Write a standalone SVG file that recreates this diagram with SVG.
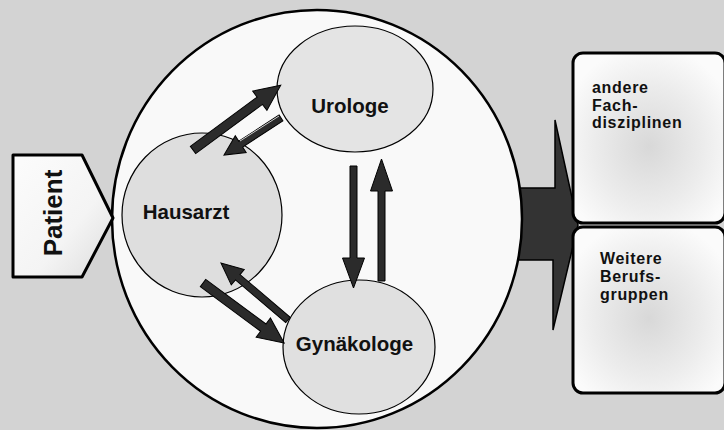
<svg xmlns="http://www.w3.org/2000/svg" width="724" height="430" viewBox="0 0 724 430">
<defs>
<radialGradient id="boxg" cx="0.5" cy="0.55" r="0.6">
<stop offset="0" stop-color="#d8d8d8"/>
<stop offset="0.6" stop-color="#ececec"/>
<stop offset="1" stop-color="#fbfbfb"/>
</radialGradient>
<linearGradient id="patg" x1="0" y1="0" x2="1" y2="1">
<stop offset="0" stop-color="#fcfcfc"/>
<stop offset="0.6" stop-color="#f4f4f4"/>
<stop offset="1" stop-color="#dcdcdc"/>
</linearGradient>
<style>
.node{stroke:#000;stroke-width:1.2}
.lbl{font-family:"Liberation Sans",Arial,sans-serif;font-weight:bold;fill:#111}
.big{font-size:20.5px;text-anchor:middle}
.box{fill:url(#boxg);stroke:#000;stroke-width:3}
.side{font-size:16px;letter-spacing:0.7px}
.arr{fill:#2b2b2b;stroke:#000;stroke-width:1}
</style>
</defs>
<rect x="0" y="0" width="724" height="430" fill="#d3d3d3"/>

<g id="bigarrow">
<path d="M505,188 L555,188 L555,120 L578,225 L553,330 L553,260 L505,260 Z" fill="#333" stroke="#000" stroke-width="1.5"/>
</g>

<g id="boundary">
<ellipse cx="317" cy="219" rx="205" ry="209" fill="#f9f9f9" stroke="#000" stroke-width="2.5"/>
</g>

<g id="patient">
<path d="M13,155 L82,155 L113,218 L82,277 L13,277 Z" fill="url(#patg)" stroke="#000" stroke-width="3" stroke-linejoin="round"/>
<text class="lbl" x="0" y="0" font-size="26" text-anchor="middle" transform="translate(62,213) rotate(-90)">Patient</text>
</g>

<g id="urologe">
<ellipse class="node" cx="355" cy="89" rx="78" ry="63" fill="#e4e4e4"/>
<text class="lbl big" x="350" y="113">Urologe</text>
</g>

<g id="hausarzt">
<ellipse class="node" cx="202" cy="215" rx="80" ry="82" fill="#dedede"/>
<text class="lbl big" x="186" y="219">Hausarzt</text>
</g>

<g id="gynaekologe">
<ellipse class="node" cx="359" cy="347" rx="76" ry="67" fill="#e0e0e0"/>
<text class="lbl big" x="354.5" y="351">Gynäkologe</text>
</g>

<g id="fachdisziplinen">
<rect class="box" x="573" y="53" width="152" height="170" rx="10"/>
<text class="lbl side" x="592" y="93">andere</text>
<text class="lbl side" x="592" y="110.5">Fach-</text>
<text class="lbl side" x="592" y="128">disziplinen</text>
</g>

<g id="berufsgruppen">
<rect class="box" x="573" y="227" width="152" height="166" rx="10"/>
<text class="lbl side" x="600" y="264">Weitere</text>
<text class="lbl side" x="600" y="282">Berufs-</text>
<text class="lbl side" x="600" y="299.5">gruppen</text>
</g>

<g id="connectors">
<path class="arr" transform="translate(193,150) rotate(-36.4)" d="M0,-4.5 L83,-4.5 L83,-12 L109,0 L83,12 L83,4.5 L0,4.5 Z"/>
<path class="arr" transform="translate(281,118) rotate(147)" d="M0,-3.5 L48,-3.5 L48,-10 L68,0 L48,10 L48,3.5 L0,3.5 Z"/>
<line x1="279" y1="116" x2="240" y2="141" stroke="#fff" stroke-width="0.8"/>
<path class="arr" transform="translate(353.5,166) rotate(90)" d="M0,-3.5 L92,-3.5 L92,-11 L122,0 L92,11 L92,3.5 L0,3.5 Z"/>
<path class="arr" transform="translate(381.5,281) rotate(-90)" d="M0,-3.5 L90,-3.5 L90,-11 L122,0 L90,11 L90,3.5 L0,3.5 Z"/>
<path class="arr" transform="translate(288,320) rotate(-139.6)" d="M0,-3.5 L66,-3.5 L66,-10 L88,0 L66,10 L66,3.5 L0,3.5 Z"/>
<path class="arr" transform="translate(203,283) rotate(36.5)" d="M0,-4.5 L75,-4.5 L75,-12 L101,0 L75,12 L75,4.5 L0,4.5 Z"/>
</g>
</svg>
